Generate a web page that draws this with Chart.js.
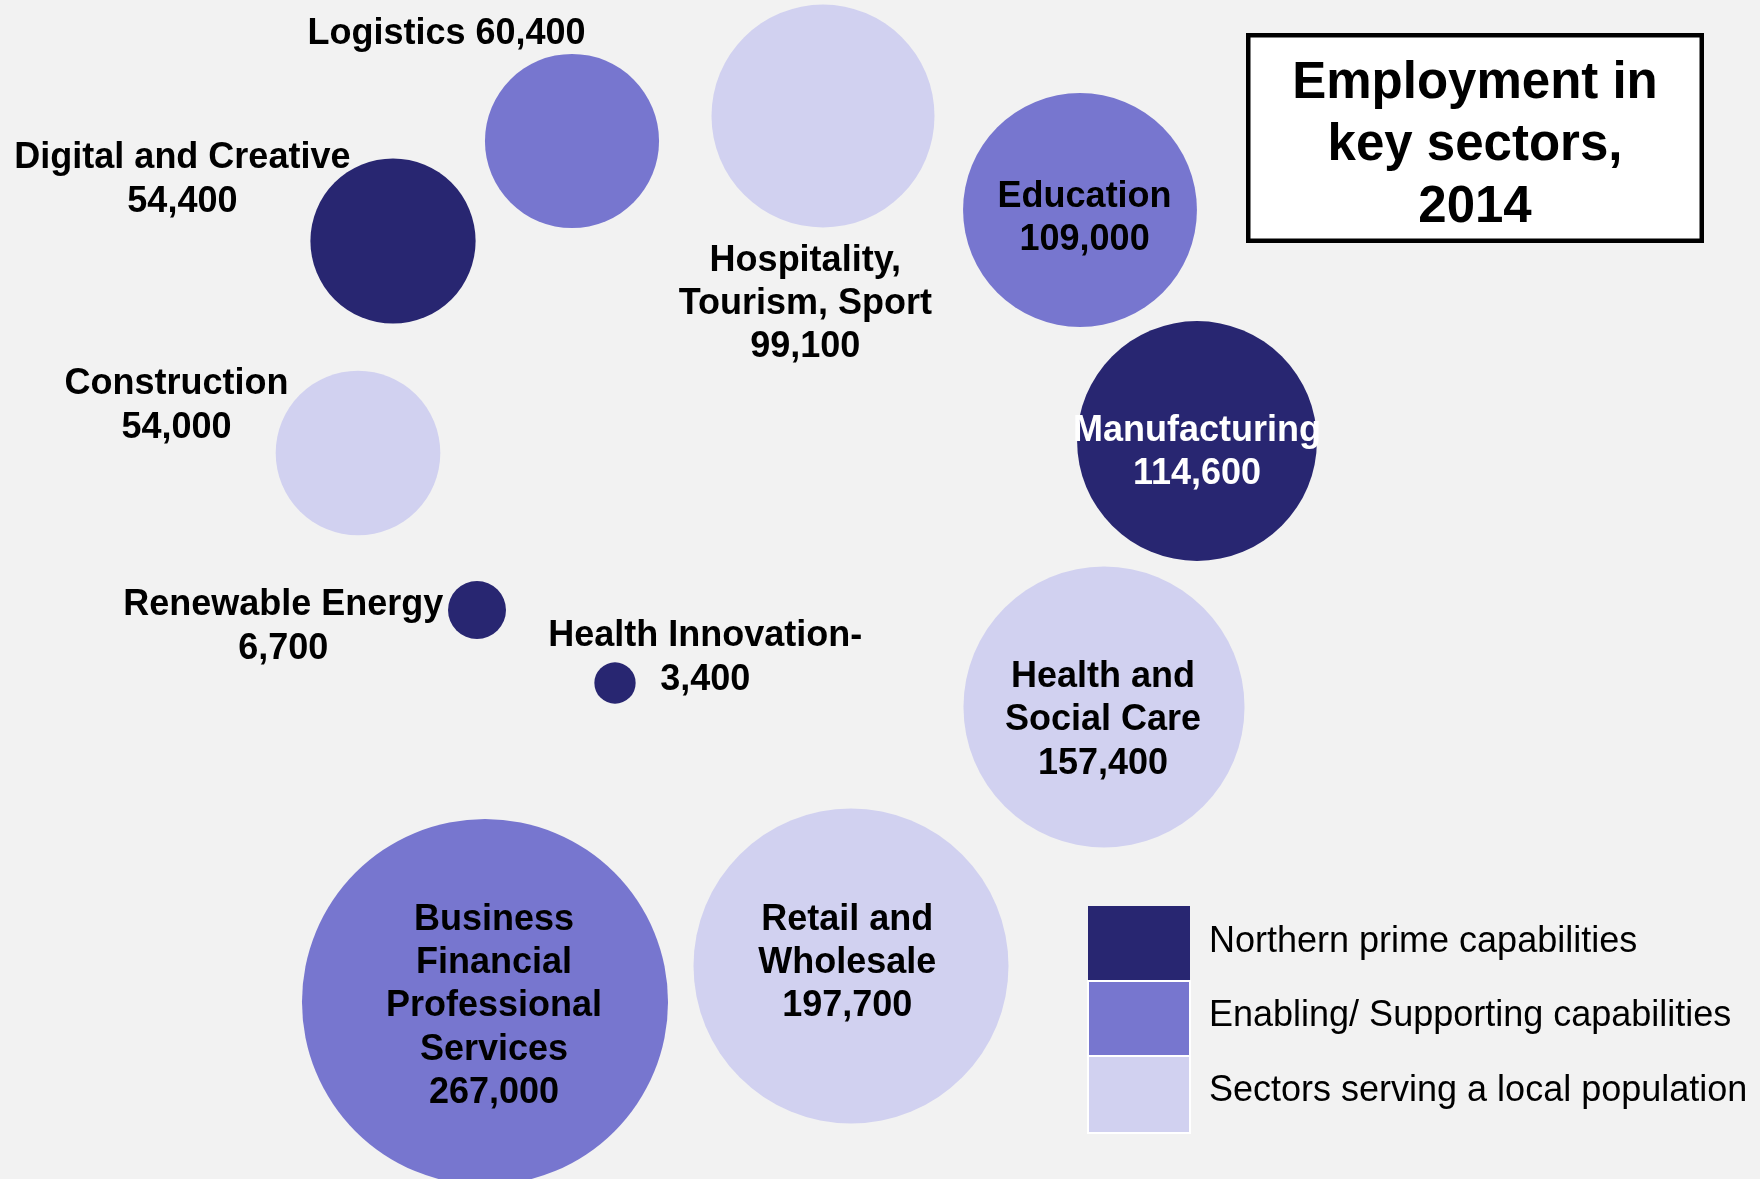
<!DOCTYPE html>
<html>
<head>
<meta charset="utf-8">
<script src="https://cdn.jsdelivr.net/npm/chart.js@4.4.1/dist/chart.umd.min.js"></script>
<style>
html,body{margin:0;padding:0;background:#f2f2f2;overflow:hidden;}
#wrap{position:relative;width:1760px;height:1179px;}
canvas{display:block;}
</style>
</head>
<body>
<div id="wrap"><canvas id="c" width="1760" height="1179"></canvas></div>
<script>
// ---- data ----
const sectors = ['Logistics', 'Hospitality, Tourism, Sport', 'Digital and Creative', 'Education',
  'Construction', 'Manufacturing', 'Renewable Energy', 'Health Innovation',
  'Health and Social Care', 'Retail and Wholesale', 'Business Financial Professional Services'];
const employment = [60400, 99100, 54400, 109000, 54000, 114600, 6700, 3400, 157400, 197700, 267000];
// 0 = Northern prime, 1 = Enabling/Supporting, 2 = Local population
const sectorGroup = [1, 2, 0, 1, 2, 0, 0, 0, 2, 2, 1];
const groupNames = ['Northern prime capabilities', 'Enabling/ Supporting capabilities', 'Sectors serving a local population'];
// label text, line by line (value appended as final line, or on the same line)
const nameLines = [['Logistics'], ['Hospitality,', 'Tourism, Sport'], ['Digital and Creative'], ['Education'],
  ['Construction'], ['Manufacturing'], ['Renewable Energy'], ['Health Innovation-'],
  ['Health and', 'Social Care'], ['Retail and', 'Wholesale'], ['Business', 'Financial', 'Professional', 'Services']];
const valueOnSameLine = [true, false, false, false, false, false, false, false, false, false, false];
// bubble layout positions (arbitrary layout units, no meaningful axis)
const layoutX = [572, 823, 393, 1080, 358, 1197, 477, 615, 1104, 851, 485];
const layoutY = [141, 116, 241, 210, 453, 441, 610, 683, 707, 966, 1002];

// ---- styling ----
const groupColors = ['#282671', '#7776cf', '#d1d1f0'];
const labelDx = [-125.5, -17.7, -210.6, 4.6, -181.5, 0, -193.7, 90.2, -1, -3.7, 9];
const labelDy = [-109, 142.6, -84.6, -15, -70.7, -12.3, -6.9, -48.9, -32.2, -48.4, -84.4];
const labelColor = ['#000', '#000', '#000', '#000', '#000', '#fff', '#000', '#000', '#000', '#000', '#000'];
const radiusScale = 0.3542; // px per sqrt(job)
const FONT = '"Liberation Sans", Arial, Helvetica, sans-serif';

const datasets = groupNames.map((name, g) => {
  const idx = [];
  sectorGroup.forEach((sg, i) => { if (sg === g) idx.push(i); });
  return {
    label: name,
    sectorIndex: idx,
    data: idx.map(i => ({ x: layoutX[i], y: layoutY[i], r: radiusScale * Math.sqrt(employment[i]) })),
    backgroundColor: groupColors[g],
    borderWidth: 0,
    hoverBorderWidth: 0,
    clip: false
  };
});

const fmt = v => v.toLocaleString('en-GB');

const labelPlugin = {
  id: 'bubbleLabels',
  afterDatasetsDraw(chart) {
    const ctx = chart.ctx;
    ctx.save();
    ctx.font = 'bold 36px ' + FONT;
    ctx.textAlign = 'center';
    ctx.textBaseline = 'alphabetic';
    chart.data.datasets.forEach((ds, di) => {
      const meta = chart.getDatasetMeta(di);
      meta.data.forEach((el, k) => {
        const i = ds.sectorIndex[k];
        let lines = nameLines[i].slice();
        if (valueOnSameLine[i]) lines[lines.length - 1] += ' ' + fmt(employment[i]);
        else lines.push(fmt(employment[i]));
        ctx.fillStyle = labelColor[i];
        lines.forEach((t, j) => {
          ctx.fillText(t, el.x + labelDx[i], el.y + labelDy[i] + j * 43.4 + 12);
        });
      });
    });
    ctx.restore();
  }
};

const extrasPlugin = {
  id: 'extras',
  afterDraw(chart) {
    const ctx = chart.ctx;
    ctx.save();
    // title box
    ctx.fillStyle = '#ffffff';
    ctx.fillRect(1248, 35, 454, 206);
    ctx.lineWidth = 4.5;
    ctx.strokeStyle = '#000000';
    ctx.strokeRect(1248.25, 35.25, 453.5, 205.5);
    ctx.fillStyle = '#000';
    ctx.font = 'bold 51px ' + FONT;
    ctx.textAlign = 'center';
    ctx.textBaseline = 'alphabetic';
    ['Employment in', 'key sectors,', '2014'].forEach((t, j) => ctx.fillText(t, 1475, 97.5 + j * 62));
    // legend
    const top = [906, 981, 1056];
    const h = [75, 75, 77];
    chart.data.datasets.forEach((ds, g) => {
      ctx.fillStyle = ds.backgroundColor;
      ctx.fillRect(1088, top[g], 102, h[g]);
      if (g > 0) {
        ctx.strokeStyle = '#ffffff';
        ctx.lineWidth = 2;
        ctx.strokeRect(1088, top[g], 102, h[g]);
      }
      ctx.fillStyle = '#000';
      ctx.font = '36px ' + FONT;
      ctx.textAlign = 'left';
      ctx.fillText(ds.label, 1209, 939 + g * 74.5 + 12.5);
    });
    ctx.restore();
  }
};

new Chart(document.getElementById('c'), {
  type: 'bubble',
  data: { datasets },
  options: {
    responsive: false,
    animation: false,
    devicePixelRatio: 1,
    events: [],
    layout: { padding: 0, autoPadding: false },
    plugins: { legend: { display: false }, tooltip: { enabled: false }, title: { display: false } },
    scales: {
      x: { type: 'linear', min: 0, max: 1760, display: false },
      y: { type: 'linear', min: 0, max: 1179, reverse: true, display: false }
    }
  },
  plugins: [labelPlugin, extrasPlugin]
});
</script>
</body>
</html>
